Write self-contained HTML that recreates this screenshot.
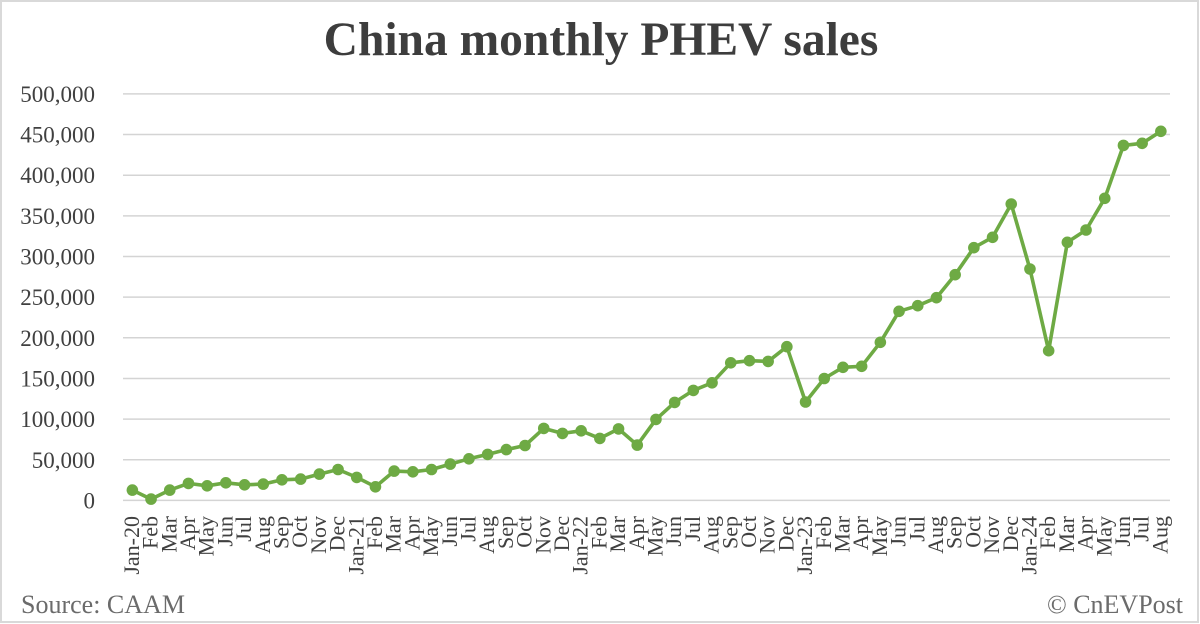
<!DOCTYPE html>
<html>
<head>
<meta charset="utf-8">
<style>
html,body{margin:0;padding:0;background:#fff;}
svg{display:block;}
text{font-family:"Liberation Serif","Times New Roman",serif;}
</style>
</head>
<body>
<svg width="1200" height="624" viewBox="0 0 1200 624" xmlns="http://www.w3.org/2000/svg">
<rect x="0" y="0" width="1200" height="624" fill="#fff"/>
<rect x="1" y="1" width="1197" height="621" fill="none" stroke="#d9d9d9" stroke-width="2"/>

<text x="601" y="55" text-anchor="middle" font-size="47.5" font-weight="bold" fill="#3d3d3d">China monthly PHEV sales</text>

<g stroke="#d4d4d4" stroke-width="1.5">
<line x1="123" x2="1170" y1="93.9" y2="93.9"/>
<line x1="123" x2="1170" y1="134.55" y2="134.55"/>
<line x1="123" x2="1170" y1="175.2" y2="175.2"/>
<line x1="123" x2="1170" y1="215.85" y2="215.85"/>
<line x1="123" x2="1170" y1="256.5" y2="256.5"/>
<line x1="123" x2="1170" y1="297.15" y2="297.15"/>
<line x1="123" x2="1170" y1="337.8" y2="337.8"/>
<line x1="123" x2="1170" y1="378.45" y2="378.45"/>
<line x1="123" x2="1170" y1="419.1" y2="419.1"/>
<line x1="123" x2="1170" y1="459.75" y2="459.75"/>
<line x1="123" x2="1170" y1="500.4" y2="500.4"/>
</g>

<g font-size="23" fill="#404040" text-anchor="end">
<text x="95" y="101.9">500,000</text>
<text x="95" y="142.55">450,000</text>
<text x="95" y="183.2">400,000</text>
<text x="95" y="223.85">350,000</text>
<text x="95" y="264.5">300,000</text>
<text x="95" y="305.15">250,000</text>
<text x="95" y="345.8">200,000</text>
<text x="95" y="386.45">150,000</text>
<text x="95" y="427.1">100,000</text>
<text x="95" y="467.75">50,000</text>
<text x="95" y="508.4">0</text>
</g>

<polyline fill="none" stroke="#6eaa44" stroke-width="3.6" stroke-linejoin="round" points="
132.35,490.1 151.05,499.1 169.75,490.1 188.45,483.4 207.15,485.8 225.85,482.8 244.55,484.8 263.25,484.1 281.95,479.8 300.65,479.1 319.35,474.1 338.05,469.5
356.75,477.4 375.45,486.8 394.15,471.1 412.85,471.8 431.55,469.5 450.25,464.1 468.95,458.8 487.65,454.4 506.35,449.6 525.05,445.5 543.75,428.4 562.45,433.4
581.15,430.8 599.85,438.4 618.55,428.9 637.25,445.1 655.95,419.4 674.65,402.4 693.35,390.4 712.05,382.8 730.75,362.8 749.45,360.7 768.15,361.4 786.85,346.7
805.55,402.0 824.25,378.5 842.95,367.3 861.65,366.3 880.35,342.3 899.05,311.3 917.75,305.7 936.45,297.7 955.15,274.7 973.85,247.7 992.55,237.3 1011.25,204.0
1029.95,269.0 1048.65,350.7 1067.35,242.3 1086.05,230.0 1104.75,198.3 1123.45,145.4 1142.15,143.3 1160.85,131.3"/>

<g fill="#6eaa44">
<circle cx="132.35" cy="490.1" r="5.8"/><circle cx="151.05" cy="499.1" r="5.8"/><circle cx="169.75" cy="490.1" r="5.8"/><circle cx="188.45" cy="483.4" r="5.8"/><circle cx="207.15" cy="485.8" r="5.8"/><circle cx="225.85" cy="482.8" r="5.8"/><circle cx="244.55" cy="484.8" r="5.8"/><circle cx="263.25" cy="484.1" r="5.8"/><circle cx="281.95" cy="479.8" r="5.8"/><circle cx="300.65" cy="479.1" r="5.8"/><circle cx="319.35" cy="474.1" r="5.8"/><circle cx="338.05" cy="469.5" r="5.8"/>
<circle cx="356.75" cy="477.4" r="5.8"/><circle cx="375.45" cy="486.8" r="5.8"/><circle cx="394.15" cy="471.1" r="5.8"/><circle cx="412.85" cy="471.8" r="5.8"/><circle cx="431.55" cy="469.5" r="5.8"/><circle cx="450.25" cy="464.1" r="5.8"/><circle cx="468.95" cy="458.8" r="5.8"/><circle cx="487.65" cy="454.4" r="5.8"/><circle cx="506.35" cy="449.6" r="5.8"/><circle cx="525.05" cy="445.5" r="5.8"/><circle cx="543.75" cy="428.4" r="5.8"/><circle cx="562.45" cy="433.4" r="5.8"/>
<circle cx="581.15" cy="430.8" r="5.8"/><circle cx="599.85" cy="438.4" r="5.8"/><circle cx="618.55" cy="428.9" r="5.8"/><circle cx="637.25" cy="445.1" r="5.8"/><circle cx="655.95" cy="419.4" r="5.8"/><circle cx="674.65" cy="402.4" r="5.8"/><circle cx="693.35" cy="390.4" r="5.8"/><circle cx="712.05" cy="382.8" r="5.8"/><circle cx="730.75" cy="362.8" r="5.8"/><circle cx="749.45" cy="360.7" r="5.8"/><circle cx="768.15" cy="361.4" r="5.8"/><circle cx="786.85" cy="346.7" r="5.8"/>
<circle cx="805.55" cy="402.0" r="5.8"/><circle cx="824.25" cy="378.5" r="5.8"/><circle cx="842.95" cy="367.3" r="5.8"/><circle cx="861.65" cy="366.3" r="5.8"/><circle cx="880.35" cy="342.3" r="5.8"/><circle cx="899.05" cy="311.3" r="5.8"/><circle cx="917.75" cy="305.7" r="5.8"/><circle cx="936.45" cy="297.7" r="5.8"/><circle cx="955.15" cy="274.7" r="5.8"/><circle cx="973.85" cy="247.7" r="5.8"/><circle cx="992.55" cy="237.3" r="5.8"/><circle cx="1011.25" cy="204.0" r="5.8"/>
<circle cx="1029.95" cy="269.0" r="5.8"/><circle cx="1048.65" cy="350.7" r="5.8"/><circle cx="1067.35" cy="242.3" r="5.8"/><circle cx="1086.05" cy="230.0" r="5.8"/><circle cx="1104.75" cy="198.3" r="5.8"/><circle cx="1123.45" cy="145.4" r="5.8"/><circle cx="1142.15" cy="143.3" r="5.8"/><circle cx="1160.85" cy="131.3" r="5.8"/>
</g>

<g font-size="22" fill="#404040" text-anchor="end">
<text transform="translate(138.85,516) rotate(-90)">Jan-20</text>
<text transform="translate(157.55,516) rotate(-90)">Feb</text>
<text transform="translate(176.25,516) rotate(-90)">Mar</text>
<text transform="translate(194.95,516) rotate(-90)">Apr</text>
<text transform="translate(213.65,516) rotate(-90)">May</text>
<text transform="translate(232.35,516) rotate(-90)">Jun</text>
<text transform="translate(251.05,516) rotate(-90)">Jul</text>
<text transform="translate(269.75,516) rotate(-90)">Aug</text>
<text transform="translate(288.45,516) rotate(-90)">Sep</text>
<text transform="translate(307.15,516) rotate(-90)">Oct</text>
<text transform="translate(325.85,516) rotate(-90)">Nov</text>
<text transform="translate(344.55,516) rotate(-90)">Dec</text>
<text transform="translate(363.25,516) rotate(-90)">Jan-21</text>
<text transform="translate(381.95,516) rotate(-90)">Feb</text>
<text transform="translate(400.65,516) rotate(-90)">Mar</text>
<text transform="translate(419.35,516) rotate(-90)">Apr</text>
<text transform="translate(438.05,516) rotate(-90)">May</text>
<text transform="translate(456.75,516) rotate(-90)">Jun</text>
<text transform="translate(475.45,516) rotate(-90)">Jul</text>
<text transform="translate(494.15,516) rotate(-90)">Aug</text>
<text transform="translate(512.85,516) rotate(-90)">Sep</text>
<text transform="translate(531.55,516) rotate(-90)">Oct</text>
<text transform="translate(550.25,516) rotate(-90)">Nov</text>
<text transform="translate(568.95,516) rotate(-90)">Dec</text>
<text transform="translate(587.65,516) rotate(-90)">Jan-22</text>
<text transform="translate(606.35,516) rotate(-90)">Feb</text>
<text transform="translate(625.05,516) rotate(-90)">Mar</text>
<text transform="translate(643.75,516) rotate(-90)">Apr</text>
<text transform="translate(662.45,516) rotate(-90)">May</text>
<text transform="translate(681.15,516) rotate(-90)">Jun</text>
<text transform="translate(699.85,516) rotate(-90)">Jul</text>
<text transform="translate(718.55,516) rotate(-90)">Aug</text>
<text transform="translate(737.25,516) rotate(-90)">Sep</text>
<text transform="translate(755.95,516) rotate(-90)">Oct</text>
<text transform="translate(774.65,516) rotate(-90)">Nov</text>
<text transform="translate(793.35,516) rotate(-90)">Dec</text>
<text transform="translate(812.05,516) rotate(-90)">Jan-23</text>
<text transform="translate(830.75,516) rotate(-90)">Feb</text>
<text transform="translate(849.45,516) rotate(-90)">Mar</text>
<text transform="translate(868.15,516) rotate(-90)">Apr</text>
<text transform="translate(886.85,516) rotate(-90)">May</text>
<text transform="translate(905.55,516) rotate(-90)">Jun</text>
<text transform="translate(924.25,516) rotate(-90)">Jul</text>
<text transform="translate(942.95,516) rotate(-90)">Aug</text>
<text transform="translate(961.65,516) rotate(-90)">Sep</text>
<text transform="translate(980.35,516) rotate(-90)">Oct</text>
<text transform="translate(999.05,516) rotate(-90)">Nov</text>
<text transform="translate(1017.75,516) rotate(-90)">Dec</text>
<text transform="translate(1036.45,516) rotate(-90)">Jan-24</text>
<text transform="translate(1055.15,516) rotate(-90)">Feb</text>
<text transform="translate(1073.85,516) rotate(-90)">Mar</text>
<text transform="translate(1092.55,516) rotate(-90)">Apr</text>
<text transform="translate(1111.25,516) rotate(-90)">May</text>
<text transform="translate(1129.95,516) rotate(-90)">Jun</text>
<text transform="translate(1148.65,516) rotate(-90)">Jul</text>
<text transform="translate(1167.35,516) rotate(-90)">Aug</text>
</g>

<text x="21" y="613" font-size="26" fill="#6b6b6b">Source: CAAM</text>
<text x="1183" y="613" font-size="26" fill="#6b6b6b" text-anchor="end">© CnEVPost</text>
</svg>
</body>
</html>
